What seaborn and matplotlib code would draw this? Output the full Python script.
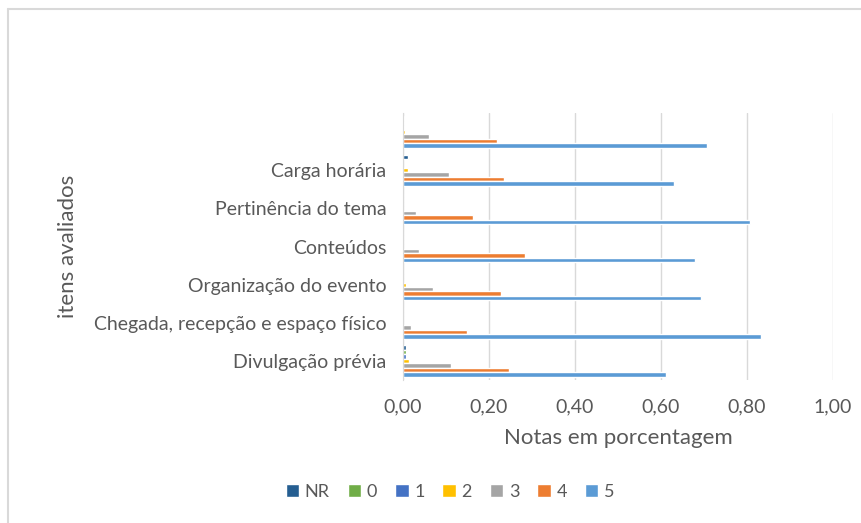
import pandas as pd
import seaborn as sns
import matplotlib.pyplot as plt
from matplotlib.lines import Line2D

# items, top to bottom as shown
itens = ["", "Carga horária", "Pertinência do tema", "Conteúdos",
         "Organização do evento", "Chegada, recepção e espaço físico",
         "Divulgação prévia"]

notas = ["NR", "0", "1", "2", "3", "4", "5"]

nr = [0.003, 0.012, 0.0, 0.0, 0.0, 0.0, 0.006]
n0 = [0.003, 0.0, 0.0, 0.0, 0.0, 0.0, 0.006]
n1 = [0.003, 0.0, 0.0, 0.0, 0.0, 0.0, 0.006]
n2 = [0.005, 0.012, 0.0, 0.0, 0.008, 0.0, 0.013]
n3 = [0.061, 0.106, 0.030, 0.037, 0.069, 0.019, 0.112]
n4 = [0.218, 0.234, 0.162, 0.284, 0.229, 0.150, 0.247]
n5 = [0.708, 0.631, 0.807, 0.679, 0.692, 0.833, 0.612]

cores = ["#255E91", "#70AD47", "#4472C4", "#FFC000", "#A5A5A5", "#ED7D31", "#5B9BD5"]

series = [nr, n0, n1, n2, n3, n4, n5]
rows = []
for nota, vals in zip(notas, series):
    for item, v in zip(itens, vals):
        rows.append({"item": item, "nota": nota, "valor": v})
df = pd.DataFrame(rows)

sns.set_style("white")
plt.rcParams['font.family'] = ['Lato', 'DejaVu Sans']
txt = "#595959"

fig = plt.figure(figsize=(8.61, 5.23), dpi=100)
ax = fig.add_axes([0.468, 0.273, 0.4995, 0.511])

sns.barplot(data=df, x="valor", y="item", hue="nota", order=itens,
            hue_order=notas, palette=cores, orient="h", width=0.82,
            saturation=1, ax=ax, legend=True)

ax.set_xlim(0, 1.0)
ax.set_xticks([0, 0.2, 0.4, 0.6, 0.8, 1.0])
ax.set_xticklabels(["0,00", "0,20", "0,40", "0,60", "0,80", "1,00"])
ax.grid(axis="x", color="#d9d9d9", linewidth=1)
ax.set_axisbelow(True)
for s in ["top", "right", "bottom"]:
    ax.spines[s].set_visible(False)
ax.spines["left"].set_color("#d9d9d9")
ax.tick_params(axis="both", length=0, labelsize=14, colors=txt)
ax.tick_params(axis="y", pad=12)
ax.tick_params(axis="x", pad=13)

ax.set_xlabel("Notas em porcentagem", fontsize=16, color=txt, labelpad=9)
ax.set_ylabel("itens avaliados", fontsize=16, color=txt)
ax.yaxis.set_label_coords(-0.755, 0.5)

h, l = ax.get_legend_handles_labels()
ax.legend(h, l, loc="center", bbox_to_anchor=(450 / 861, 1 - 492 / 523),
          bbox_transform=fig.transFigure, ncol=7, frameon=False,
          fontsize=13, handlelength=0.75, handleheight=0.75,
          handletextpad=0.3, columnspacing=1.0, labelcolor=txt)

# chart area border (only top and left visible)
fig.add_artist(Line2D([8 / 861, 1], [1 - 9 / 523, 1 - 9 / 523], color="#d9d9d9", lw=1.5))
fig.add_artist(Line2D([8 / 861, 8 / 861], [0, 1 - 9 / 523], color="#d9d9d9", lw=1.5))

fig.savefig("out.png", dpi=100)
